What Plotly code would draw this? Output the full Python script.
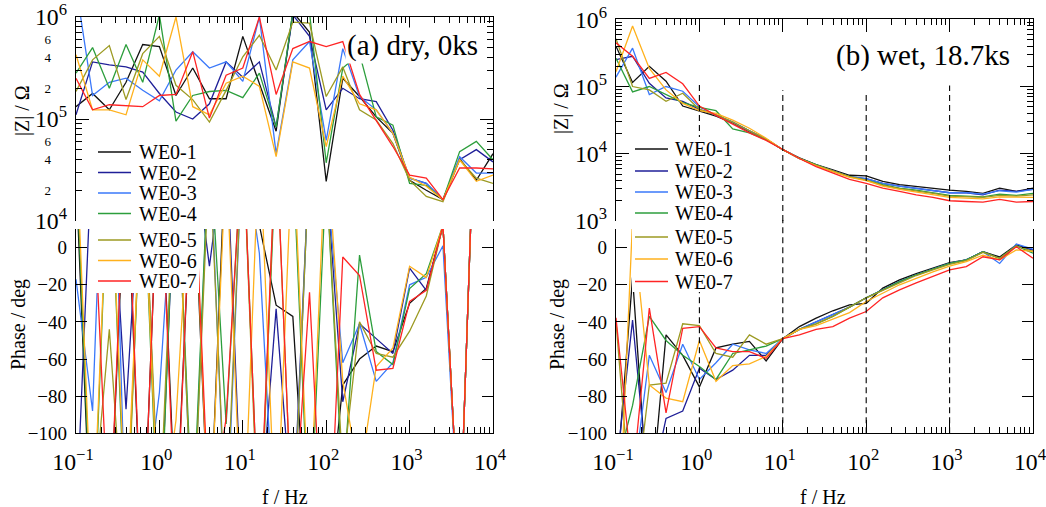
import plotly.graph_objects as go

# ---------------- data ----------------
freq_hz = [0.1, 0.158, 0.251, 0.398, 0.631, 1.0, 1.58, 2.51, 3.98, 6.31,
           10.0, 15.8, 25.1, 39.8, 63.1, 100.0, 158.0, 251.0, 398.0, 631.0,
           1000.0, 1585.0, 2512.0, 3981.0, 6310.0, 10000.0]

series_names = ["WE0-1", "WE0-2", "WE0-3", "WE0-4", "WE0-5", "WE0-6", "WE0-7"]
series_colors = ["#111111", "#1f1f98", "#3a78fa", "#2c9e3c", "#9c9a22", "#ffb11c", "#ff2424"]

# (a) dry, 0 ks : |Z| / Ohm
dry_z_1 = [1.32e5, 1.78e5, 1.23e5, 2.29e5, 5.37e5, 5.13e5, 1.70e5, 3.16e5, 1.58e5, 1.58e5,
           6.46e5, 2.24e5, 7.59e4, 1.12e6, 7.08e5, 2.45e4, 2.51e5, 1.66e5, 1.05e5, 7.24e4,
           2.51e4, 2.00e4, 1.62e4, 4.07e4, 2.51e4, 4.57e4]
dry_z_2 = [1.10e5, 3.63e5, 3.39e5, 3.24e5, 2.88e5, 1.78e5, 1.17e5, 1.00e5, 1.41e5, 3.63e5,
           2.57e5, 3.63e5, 8.32e4, 1.05e6, 6.46e5, 1.23e5, 2.00e5, 1.58e5, 1.48e5, 7.76e4,
           2.63e4, 2.34e4, 1.62e4, 3.98e4, 5.01e4, 3.80e4]
dry_z_3 = [2.00e6, 1.70e5, 2.29e5, 2.51e5, 1.91e5, 1.51e5, 3.02e5, 4.57e5, 3.16e5, 3.63e5,
           2.34e5, 1.00e6, 4.57e4, 3.80e5, 5.75e5, 6.17e4, 4.90e5, 1.66e5, 1.23e5, 7.24e4,
           2.63e4, 2.34e4, 1.62e4, 4.27e4, 2.95e4, 2.95e4]
dry_z_4 = [2.82e5, 5.01e5, 2.00e5, 5.37e5, 2.29e5, 1.05e6, 9.55e4, 1.70e5, 1.86e5, 1.91e5,
           1.62e5, 2.82e5, 8.32e4, 1.12e6, 1.10e6, 3.72e4, 3.16e5, 4.37e5, 1.05e5, 8.71e4,
           2.34e4, 2.24e4, 1.62e4, 4.79e4, 6.03e4, 3.98e4]
dry_z_5 = [1.86e5, 3.80e5, 5.25e5, 1.55e5, 4.37e5, 6.46e5, 2.14e5, 1.55e5, 9.33e4, 1.91e5,
           4.07e5, 6.61e5, 3.02e5, 8.91e5, 8.71e5, 1.66e5, 3.24e5, 1.23e5, 9.77e4, 5.75e4,
           2.51e4, 1.74e4, 1.55e4, 3.98e4, 2.63e4, 2.34e4]
dry_z_6 = [4.27e5, 1.23e5, 1.23e5, 1.10e5, 3.80e5, 2.63e5, 1.00e6, 1.32e5, 1.10e5, 2.24e5,
           2.63e5, 2.09e5, 4.27e4, 3.63e5, 3.16e5, 5.37e4, 2.63e5, 1.41e5, 1.23e5, 7.24e4,
           2.69e4, 2.19e4, 1.62e4, 3.98e4, 2.45e4, 2.82e4]
dry_z_7 = [2.51e5, 1.23e5, 1.38e5, 1.35e5, 1.32e5, 1.70e5, 1.74e5, 4.57e5, 1.02e5, 2.69e5,
           3.16e5, 1.00e6, 1.74e5, 4.90e5, 5.75e5, 5.13e5, 5.75e5, 1.74e5, 9.77e4, 5.37e4,
           2.82e4, 2.63e4, 1.62e4, 3.31e4, 3.31e4, 3.24e4]

# (a) dry, 0 ks : phase / deg (values outside -100..10 are clipped by the axis)
dry_ph_1 = [40, -180, -160, 50, -170, 60, -150, 50, -160, 60, 40, 12, -31, -37, -180, -160,
            -74, -60, -53, -56, -30, -22, 12, -160, 100, 120]
dry_ph_2 = [-150, 60, 60, -87, 60, -160, 50, 60, -10, 60, -160, -150, -33, -150, 50, 40,
            -83, -41, -49, -57, -11, -23, 12, -160, 100, 120]
dry_ph_3 = [-17, -88, 150, -160, -150, -78, 60, -160, 60, -160, 60, -3, -170, -160, 50, 40,
            -62, -41, -72, -62, -20, -16, 1, -160, 100, 120]
dry_ph_4 = [50, -170, 60, -160, 50, -170, 60, -150, 60, -95, 60, -160, 50, 50, -160, 40,
            -130, -4, -56, -63, -22, -14, 12, -160, 100, 120]
dry_ph_5 = [-160, -145, -44, -171, 60, -150, 60, -160, 50, -150, 60, -170, 60, -160, 50, 40,
            -120, -40, -57, -59, -45, -26, 12, -160, 100, 120]
dry_ph_6 = [60, -160, 60, -150, 50, -160, -93, 60, -160, 50, -170, 60, -160, 60, -150, 60,
            -72, -125, -64, -54, -10, -16, 12, -160, 100, 120]
dry_ph_7 = [60, 40, -160, 60, -170, 60, -160, 60, -150, -92, 60, -160, 60, -160, -24, -200,
            -5, -15, -66, -65, -29, -23, 12, -160, 100, 120]

# (b) wet, 18.7 ks : |Z| / Ohm
wet_z_1 = [3.98e5, 1.15e5, 2.00e5, 1.20e5, 5.13e4, 4.37e4, 3.63e4, 2.88e4, 2.14e4, 1.66e4,
           1.15e4, 8.71e3, 6.92e3, 5.75e3, 4.79e3, 4.68e3, 3.89e3, 3.47e3, 3.24e3, 3.09e3,
           2.88e3, 2.75e3, 2.57e3, 3.09e3, 2.75e3, 3.09e3]
wet_z_2 = [2.51e5, 2.82e5, 1.12e5, 6.76e4, 6.03e4, 4.57e4, 3.80e4, 2.95e4, 2.19e4, 1.66e4,
           1.15e4, 8.51e3, 6.76e3, 5.50e3, 4.57e3, 4.27e3, 3.63e3, 3.31e3, 3.09e3, 2.88e3,
           2.63e3, 2.63e3, 2.45e3, 2.88e3, 2.75e3, 2.95e3]
wet_z_3 = [1.38e5, 3.72e5, 7.59e4, 1.00e5, 8.51e4, 5.01e4, 3.72e4, 2.95e4, 2.19e4, 1.66e4,
           1.15e4, 8.51e3, 6.76e3, 5.50e3, 4.57e3, 4.27e3, 3.63e3, 3.31e3, 3.09e3, 2.88e3,
           2.63e3, 2.63e3, 2.51e3, 2.82e3, 2.69e3, 2.95e3]
wet_z_4 = [2.63e5, 8.32e4, 1.00e5, 7.59e4, 5.75e4, 4.90e4, 4.37e4, 2.34e4, 2.04e4, 1.62e4,
           1.15e4, 8.51e3, 6.76e3, 5.50e3, 4.57e3, 4.07e3, 3.47e3, 3.09e3, 2.88e3, 2.63e3,
           2.40e3, 2.34e3, 2.29e3, 2.51e3, 2.40e3, 2.57e3]
wet_z_5 = [5.13e5, 1.00e5, 8.91e4, 6.03e4, 7.94e4, 4.57e4, 3.80e4, 2.95e4, 2.19e4, 1.66e4,
           1.15e4, 8.51e3, 6.76e3, 5.50e3, 4.57e3, 4.07e3, 3.39e3, 3.02e3, 2.82e3, 2.57e3,
           2.34e3, 2.29e3, 2.24e3, 2.40e3, 2.34e3, 2.45e3]
wet_z_6 = [1.66e5, 7.94e5, 1.86e5, 8.91e4, 5.62e4, 4.37e4, 3.98e4, 3.16e4, 2.40e4, 1.70e4,
           1.15e4, 8.51e3, 6.61e3, 5.37e3, 4.47e3, 3.98e3, 3.31e3, 2.95e3, 2.69e3, 2.45e3,
           2.24e3, 2.19e3, 2.14e3, 2.29e3, 2.24e3, 2.24e3]
wet_z_7 = [4.47e5, 2.82e5, 1.32e5, 1.62e5, 1.10e5, 5.13e4, 3.72e4, 2.75e4, 2.04e4, 1.58e4,
           1.15e4, 8.51e3, 6.46e3, 5.13e3, 4.17e3, 3.63e3, 3.09e3, 2.75e3, 2.45e3, 2.24e3,
           2.00e3, 1.95e3, 1.91e3, 2.09e3, 1.91e3, 1.95e3]

# (b) wet, 18.7 ks : phase / deg
wet_ph_1 = [-130, -16, -147, -47, -58, -75, -54, -52, -50.5, -61, -49, -42.5, -38, -34, -30.8,
            -30, -21.8, -17.4, -14, -11, -8, -6.6, -2.2, -5, 1.4, -1.2]
wet_ph_2 = [-120, -39, -134, -92, -88, -65, -71, -66, -58, -58, -49, -44, -40, -36, -32,
            -27, -22.7, -18.3, -14.6, -11.5, -8.5, -6.6, -2.2, -5.7, 1, -1.2]
wet_ph_3 = [-105, -130, -58, -78, -52, -71, -62, -52, -55, -57, -49, -44, -40, -36, -32,
            -27, -22.7, -18.3, -14.6, -11.5, -8.5, -6.6, -2.2, -8.5, 2, -0.8]
wet_ph_4 = [-120, -85, -37, -50, -58, -64, -71, -57, -55, -53, -49, -44, -41, -37, -32,
            -27, -22.7, -18.3, -14.6, -11.5, -8.5, -6.6, -2.2, -5.7, 1, -3]
wet_ph_5 = [-40, -150, -74, -73, -41, -42, -57, -59, -47, -52, -49, -44, -41, -37, -32,
            -27, -23, -19, -15, -12, -9, -7, -2.5, -5.7, 0.9, -2]
wet_ph_6 = [-190, 15, -74, -81, -83, -50, -72, -63.5, -62.6, -58.6, -49, -44, -42, -38.5, -35,
            -29, -24.5, -20, -16.5, -13, -10, -7.5, -4, -6.5, -1.2, -2]
wet_ph_7 = [-37.8, -125, -32.6, -89, -43.4, -42.5, -54, -56, -56, -59.6, -49, -47, -44, -42.5, -38,
            -34.4, -27, -22.7, -19, -15.5, -12, -10.2, -4.9, -6.6, 0.5, -5.7]

dry_z = [dry_z_1, dry_z_2, dry_z_3, dry_z_4, dry_z_5, dry_z_6, dry_z_7]
dry_ph = [dry_ph_1, dry_ph_2, dry_ph_3, dry_ph_4, dry_ph_5, dry_ph_6, dry_ph_7]
wet_z = [wet_z_1, wet_z_2, wet_z_3, wet_z_4, wet_z_5, wet_z_6, wet_z_7]
wet_ph = [wet_ph_1, wet_ph_2, wet_ph_3, wet_ph_4, wet_ph_5, wet_ph_6, wet_ph_7]

# reference frequencies marked by dashed lines in panel (b) and where they start in |Z|
marker_freqs = [1, 10, 100, 1000]
marker_top_z = [1.05e5, 8.8e4, 7.8e4, 1.04e5]

panel_labels = ["(a) dry, 0ks", "(b) wet, 18.7ks"]

# ---------------- layout helpers ----------------
W, H = 1046, 507
FONT = "Liberation Serif, Times New Roman, Times, DejaVu Serif, serif"


def fx(p):
    return p / W


def fy(p):
    return 1 - p / H


LX = (76, 493)
RX = (616, 1033)
TOP_L = (17, 221)
TOP_R = (19.3, 221)
BOT = (229.1, 433.3)

fig = go.Figure()

panels = [
    (dry_z, "x", "y"),
    (dry_ph, "x2", "y2"),
    (wet_z, "x3", "y3"),
    (wet_ph, "x4", "y4"),
]
for data, xa, ya in panels:
    for name, color, vals in zip(series_names, series_colors, data):
        fig.add_trace(go.Scatter(
            x=freq_hz, y=vals, mode="lines", name=name,
            line=dict(color=color, width=1.3),
            xaxis=xa, yaxis=ya, showlegend=False,
        ))

# empty trace so that the free axis carrying the small 2/4/6 labels is drawn
fig.add_trace(go.Scatter(x=[], y=[], xaxis="x", yaxis="y5", showlegend=False,
                         hoverinfo="skip"))

tickfont = dict(family=FONT, size=19, color="black")
LW = 1.3


def log_x(domain, anchor, side, labels):
    return dict(
        domain=[fx(domain[0]), fx(domain[1])], anchor=anchor, side=side,
        type="log", range=[-1, 4], tickmode="linear", tick0=0, dtick=1,
        exponentformat="power", labelalias={"1": "10<sup>0</sup>", "10": "10<sup>1</sup>"},
        showticklabels=labels, tickfont=tickfont, ticklabelstandoff=8,
        ticklabelshift=-3, ticklabeloverflow="allow", color="black",
        showline=True, linecolor="black", linewidth=LW, mirror=False,
        ticks="inside", ticklen=13, tickwidth=LW, tickcolor="black",
        minor=dict(ticks="inside", ticklen=6, tickwidth=1, tickcolor="black",
                   dtick="D1", showgrid=False),
        showgrid=False, zeroline=False, automargin=False,
    )


def log_y(domain, anchor, rng):
    return dict(
        domain=[fy(domain[1]), fy(domain[0])], anchor=anchor,
        type="log", range=rng, tickmode="linear", tick0=0, dtick=1,
        exponentformat="power", tickfont=tickfont, ticklabelstandoff=4,
        ticklabeloverflow="allow", color="black",
        showline=True, linecolor="black", linewidth=LW, mirror="ticks",
        ticks="inside", ticklen=13, tickwidth=LW, tickcolor="black",
        minor=dict(ticks="inside", ticklen=6, tickwidth=1, tickcolor="black",
                   dtick="D1", showgrid=False),
        showgrid=False, zeroline=False, automargin=False,
    )


def phase_y(anchor):
    return dict(
        domain=[fy(BOT[1]), fy(BOT[0])], anchor=anchor,
        range=[-100, 10], tickmode="linear", tick0=0, dtick=20,
        tickfont=tickfont, ticklabelstandoff=4,
        ticklabeloverflow="allow", color="black",
        showline=True, linecolor="black", linewidth=LW, mirror="ticks",
        ticks="inside", ticklen=11, tickwidth=LW, tickcolor="black",
        showgrid=False, zeroline=False, automargin=False,
    )


fig.update_layout(
    width=W, height=H,
    margin=dict(l=0, r=0, t=0, b=0, pad=0, autoexpand=False),
    paper_bgcolor="white", plot_bgcolor="white",
    showlegend=False,
    font=dict(family=FONT, color="black"),
    xaxis=log_x(LX, "y", "top", False),
    yaxis=log_y(TOP_L, "x", [4, 6]),
    xaxis2=log_x(LX, "y2", "bottom", True),
    yaxis2=phase_y("x2"),
    xaxis3=log_x(RX, "y3", "top", False),
    yaxis3=log_y(TOP_R, "x3", [3, 6]),
    xaxis4=log_x(RX, "y4", "bottom", True),
    yaxis4=phase_y("x4"),
    yaxis5=dict(
        overlaying="y", anchor="free", position=fx(51), side="left",
        type="log", range=[4, 6], color="black",
        tickmode="array", tickvals=[2e4, 4e4, 6e4, 2e5, 4e5, 6e5],
        ticktext=["2", "4", "6", "2", "4", "6"],
        tickfont=dict(family=FONT, size=13, color="black"),
        ticks="", showline=False, showgrid=False, zeroline=False, automargin=False,
    ),
)

shapes = []
annotations = []

# dashed reference lines (panel b)
for f, ztop in zip(marker_freqs, marker_top_z):
    shapes.append(dict(type="line", xref="x3", yref="y3", x0=f, x1=f, y0=1e3, y1=ztop,
                       line=dict(color="black", width=1.1, dash="6px,4px"), layer="above"))
    shapes.append(dict(type="line", xref="x4", yref="y4 domain", x0=f, x1=f, y0=0, y1=1.045,
                       line=dict(color="black", width=1.1, dash="6px,4px"), layer="above"))

# legends (drawn as boxes of line samples + text, one per panel column)
legend_cfg = [
    dict(bg=(91, 199, 139, 293), x_line=98, x_text=137,
         ys=[152, 172.5, 193, 213.5, 240, 260.5, 281]),
    dict(bg=(632, 732, 137, 292), x_line=635, x_text=673,
         ys=[149, 171, 192, 213, 237, 259, 281.5]),
]
for cfg in legend_cfg:
    x0, x1, y0, y1 = cfg["bg"]
    shapes.append(dict(type="rect", xref="paper", yref="paper",
                       x0=fx(x0), x1=fx(x1), y0=fy(y1), y1=fy(y0),
                       fillcolor="white", line=dict(width=0), layer="above"))
    for name, color, yy in zip(series_names, series_colors, cfg["ys"]):
        shapes.append(dict(type="line", xref="paper", yref="paper",
                           x0=fx(cfg["x_line"]), x1=fx(cfg["x_line"] + 33),
                           y0=fy(yy), y1=fy(yy),
                           line=dict(color=color, width=1.4), layer="above"))
        annotations.append(dict(text=name, xref="paper", yref="paper",
                                x=fx(cfg["x_text"]), y=fy(yy), xanchor="left",
                                yanchor="middle", showarrow=False,
                                font=dict(family=FONT, size=20, color="black")))

# panel labels
for text, (cx, cy) in zip(panel_labels, [(412, 45), (923, 55)]):
    annotations.append(dict(text=text, xref="paper", yref="paper", x=fx(cx), y=fy(cy),
                            xanchor="center", yanchor="middle", showarrow=False,
                            bgcolor="white", borderpad=1,
                            font=dict(family=FONT, size=29, color="black")))

# axis titles
for text, (cx, cy), ang in [
    ("|Z| / Ω", (22, 111), -90), ("|Z| / Ω", (561, 109), -90),
    ("Phase / deg", (18, 325), -90), ("Phase / deg", (557, 325), -90),
    ("f / Hz", (285, 497), 0), ("f / Hz", (823, 497), 0),
]:
    annotations.append(dict(text=text, xref="paper", yref="paper", x=fx(cx), y=fy(cy),
                            xanchor="center", yanchor="middle", textangle=ang,
                            showarrow=False, font=dict(family=FONT, size=20, color="black")))

fig.update_layout(shapes=shapes, annotations=annotations)
fig.write_html("out.html")
